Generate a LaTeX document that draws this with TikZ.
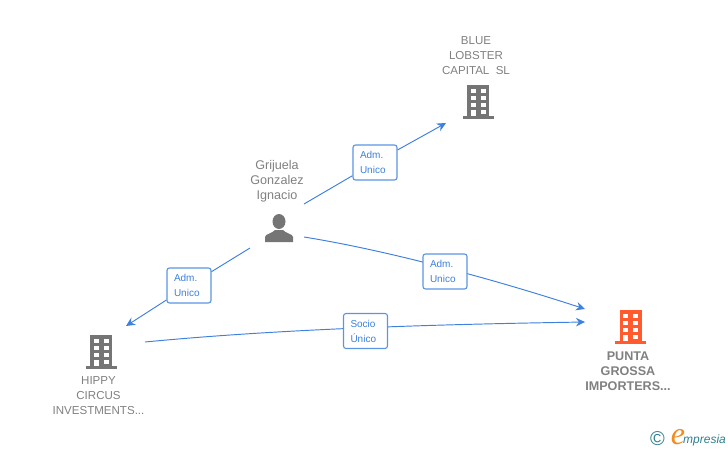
\documentclass[tikz,border=0pt]{standalone}
\usepackage{fontspec}
\setmainfont{Liberation Sans}
\newfontfamily\logoserif{Liberation Serif}
\usetikzlibrary{arrows.meta}
\definecolor{linkblue}{HTML}{3D80DE}
\definecolor{boxline}{HTML}{5B94E3}
\definecolor{icongray}{HTML}{757575}
\definecolor{textgray}{HTML}{808080}
\definecolor{iconorange}{HTML}{FF5B2E}
\definecolor{logoteal}{HTML}{2F7F8F}
\definecolor{logoorange}{HTML}{F28C1E}
\tikzset{
  x=1pt,y=-1pt,
  link/.style={draw=linkblue,line width=0.95pt},
  arrowlink/.style={link,-{Stealth[length=9pt,width=8.5pt]}},
  rolebox/.style={draw=boxline,line width=1.1pt,rounded corners=2.5pt,fill=white,text=linkblue,
    minimum width=44pt,minimum height=35pt,inner sep=0pt,text width=30pt,align=left,font=\fontsize{10}{15}\selectfont},
  caption/.style={text=textgray,align=center,inner sep=0pt,font=\fontsize{11.55}{15}\selectfont},
  namecaption/.style={text=textgray,align=center,inner sep=0pt,font=\fontsize{12.6}{15}\selectfont},
  boldcaption/.style={text=textgray,align=center,inner sep=0pt,font=\bfseries\fontsize{12.6}{15}\selectfont},
  pics/building/.style={code={
    \fill[#1] (-11,-16) rectangle (11,15);
    \fill[#1] (-15.5,15) rectangle (15.5,17.5);
    \foreach \yy in {-12,-5,2}{
      \fill[white] (-7.2,\yy) rectangle (-2.3,\yy+4.3);
      \fill[white] (2.8,\yy) rectangle (7.7,\yy+4.3);
    }
    \fill[white] (-7.2,8.5) rectangle (-2.3,15);
    \fill[white] (2.8,8.5) rectangle (7.7,12.8);
  }},
  pics/person/.style={code={
    \fill[#1] (0,-9.5) ellipse (6.5 and 7.5);
    \fill[#1] (-14,11) -- (-14,6) .. controls (-14,3) and (-6,2) .. (-4,-1)
      -- (4,-1) .. controls (6,2) and (14,3) .. (14,6) -- (14,11) -- cycle;
  }}
}
\begin{document}
\begin{tikzpicture}
\useasboundingbox (0,0) rectangle (728,450);
% icons
\pic at (478,101) {building=icongray};
\pic at (101,351) {building=icongray};
\pic at (630.5,326) {building=iconorange};
\pic at (279,231) {person=icongray};
% captions
\node[caption] (blue) at (476,55.5) {BLUE\\LOBSTER\\CAPITAL\ \ SL};
\node[namecaption] (grij) at (277,181.5) {Grijuela\\Gonzalez\\Ignacio};
\node[caption] (hippy) at (98.5,396) {HIPPY\\CIRCUS\\INVESTMENTS...};
\node[boldcaption] (punta) at (628,371) {PUNTA\\GROSSA\\IMPORTERS...};
% connector ends
\coordinate (pa) at (304,204);
\coordinate (pb) at (250,248);
\coordinate (pc) at (304,237);
\coordinate (hs) at (145,342);
\coordinate (bt) at (446,123);
\coordinate (ht) at (126,326);
\coordinate (gt1) at (585,309);
\coordinate (gt2) at (585,322);
% curved connectors run behind their role boxes
\draw[arrowlink] (pc) .. controls (385,250) and (490,278) .. (gt1);
\draw[arrowlink] (hs) .. controls (280,329) and (430,324.5) .. (gt2);
% role boxes
\node[rolebox] (r1) at (375,162.5) {Adm.\\Unico};
\node[rolebox] (r2) at (189,285.5) {Adm.\\Unico};
\node[rolebox] (r3) at (445,271.5) {Adm.\\Unico};
\node[rolebox] (r4) at (365.5,331) {Socio\\Único};
% straight connectors
\draw[link] (pa) -- (r1);
\draw[arrowlink] (r1) -- (bt);
\draw[link] (pb) -- (r2);
\draw[arrowlink] (r2) -- (ht);
% logo
\node[inner sep=0pt,text=logoteal,font=\fontsize{20}{20}\selectfont] (copy) at (657.5,438.5) {©};
\node[inner sep=0pt,text=logoorange,font=\logoserif\itshape\fontsize{32}{32}\selectfont] (logoe) at (678,437) {e};
\node[inner sep=0pt,anchor=base west,text=logoteal,font=\itshape\fontsize{12}{13}\selectfont] (logot) at (683,443) {mpresia};
\end{tikzpicture}
\end{document}
